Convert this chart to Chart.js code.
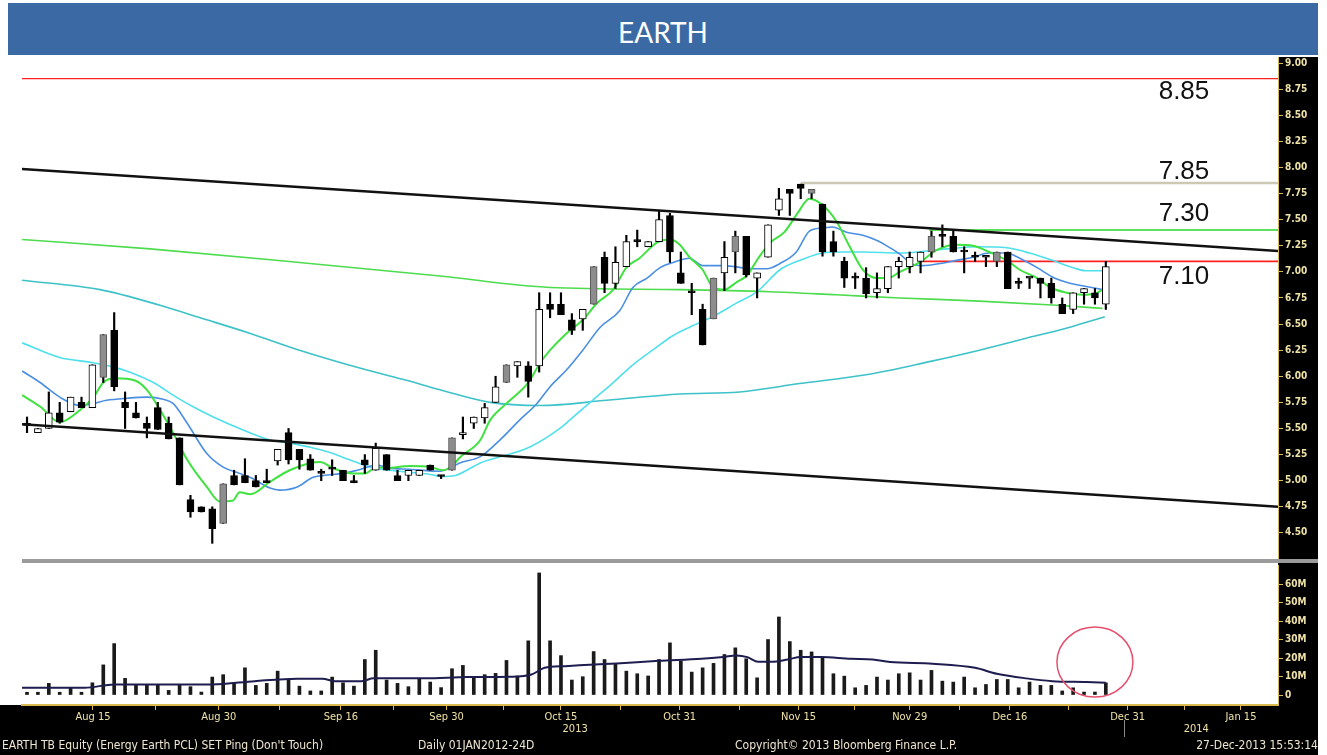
<!DOCTYPE html>
<html>
<head>
<meta charset="utf-8">
<title>EARTH</title>
<script src="https://cdn.jsdelivr.net/npm/chart.js@4.4.1/dist/chart.umd.min.js"></script>
<style>
  html, body { margin: 0; padding: 0; background: #fff; }
  body { width: 1327px; height: 755px; position: relative; overflow: hidden; }
  #title {
    position: absolute; left: 8px; top: 3px; width: 1310px; height: 52px;
    background: #3b69a3; color: #fff; text-align: center;
    font: 28px "Lato", "Open Sans", sans-serif; line-height: 58px;
  }
  #axisBand { position: absolute; left: 1278px; top: 57px; width: 40px; height: 648px; background: #000; }
  #bottomBand { position: absolute; left: 0; top: 705px; width: 1318px; height: 50px; background: #000; }
  #sep { position: absolute; left: 22px; top: 559px; width: 1296px; height: 4px; background: #9b9b9b; }
  canvas { position: absolute; left: 0; }
  #priceChart { top: 57px; }
  #volChart { top: 563px; }
  .foot {
    position: absolute; top: 738px; color: #efe7cf; white-space: pre;
    font: 12px "DejaVu Sans Condensed", "Liberation Sans Narrow", "DejaVu Sans", sans-serif;
  }
</style>
</head>
<body>
<div id="title">EARTH</div>
<div id="axisBand"></div>
<div id="bottomBand"></div>
<div id="sep"></div>
<canvas id="priceChart" width="1318" height="502"></canvas>
<canvas id="volChart" width="1318" height="192"></canvas>
<div class="foot" style="left:2px">EARTH TB Equity (Energy Earth PCL) SET Ping (Don't Touch)</div>
<div class="foot" style="left:418px">Daily 01JAN2012-24D</div>
<div class="foot" style="left:735px">Copyright© 2013 Bloomberg Finance L.P.</div>
<div class="foot" style="right:9px">27-Dec-2013 15:53:14</div>
<script>
// EARTH TB daily candles, early Aug -> 27 Dec 2013
const opens = [
  5.53, 5.46, 5.50, 5.65, 5.66, 5.75, 5.70, 5.99, 6.44, 5.75,
  5.65, 5.55, 5.70, 5.55, 5.41, 4.82, 4.75, 4.73, 4.59, 5.05,
  5.05, 5.00, 5.00, 5.19, 5.46, 5.30, 5.21, 5.07, 5.11, 5.10,
  5.00, 5.20, 5.10, 5.25, 5.05, 5.05, 5.05, 5.15, 5.05, 5.10,
  5.44, 5.55, 5.60, 5.75, 5.94, 6.10, 6.10, 6.10, 6.69, 6.69,
  6.54, 6.55, 6.69, 7.14, 6.89, 7.05, 7.29, 7.24, 7.29, 7.54,
  6.99, 6.80, 6.64, 6.55, 6.99, 7.19, 7.34, 6.94, 7.14, 7.59,
  7.79, 7.84, 7.75, 7.65, 7.29, 7.10, 6.94, 6.94, 6.80, 6.84,
  7.05, 7.05, 7.10, 7.19, 7.34, 7.34, 7.19, 7.14, 7.14, 7.10,
  7.19, 6.89, 6.94, 6.94, 6.89, 6.69, 6.64, 6.80, 6.80, 6.69
];
const highs = [
  5.61, 5.50, 5.85, 5.75, 5.80, 5.80, 6.11, 6.40, 6.61, 5.85,
  5.75, 5.61, 5.75, 5.61, 5.41, 4.86, 4.75, 4.75, 4.97, 5.10,
  5.21, 5.05, 5.11, 5.30, 5.50, 5.30, 5.25, 5.11, 5.20, 5.10,
  5.05, 5.25, 5.36, 5.25, 5.10, 5.10, 5.10, 5.15, 5.05, 5.41,
  5.61, 5.61, 5.74, 6.00, 6.11, 6.14, 6.14, 6.80, 6.80, 6.80,
  6.60, 6.64, 7.05, 7.19, 7.24, 7.35, 7.40, 7.29, 7.59, 7.56,
  7.19, 6.89, 6.69, 6.94, 7.29, 7.39, 7.34, 6.99, 7.45, 7.80,
  7.79, 7.84, 7.79, 7.65, 7.39, 7.14, 6.99, 7.04, 6.99, 7.05,
  7.14, 7.19, 7.19, 7.39, 7.45, 7.39, 7.24, 7.19, 7.14, 7.19,
  7.19, 6.94, 6.94, 6.94, 6.94, 6.75, 6.80, 6.84, 6.84, 7.10
];
const lows = [
  5.46, 5.46, 5.50, 5.55, 5.66, 5.70, 5.70, 5.94, 5.86, 5.50,
  5.60, 5.41, 5.49, 5.40, 4.96, 4.65, 4.70, 4.40, 4.59, 4.96,
  4.98, 4.94, 4.98, 5.15, 5.16, 5.11, 5.10, 5.00, 5.05, 5.00,
  4.98, 5.07, 5.10, 5.10, 5.00, 5.00, 5.05, 5.10, 5.02, 5.10,
  5.40, 5.50, 5.55, 5.75, 5.94, 5.99, 5.80, 6.04, 6.56, 6.59,
  6.40, 6.44, 6.69, 6.80, 6.84, 7.05, 7.24, 7.24, 7.29, 7.09,
  6.89, 6.59, 6.30, 6.55, 6.82, 6.99, 6.95, 6.75, 7.14, 7.54,
  7.54, 7.70, 7.70, 7.15, 7.15, 6.85, 6.84, 6.75, 6.75, 6.80,
  6.94, 6.99, 6.99, 7.14, 7.24, 7.19, 6.99, 7.10, 7.05, 7.05,
  6.84, 6.84, 6.84, 6.75, 6.70, 6.60, 6.60, 6.69, 6.69, 6.64
];
const closes = [
  5.53, 5.50, 5.65, 5.56, 5.80, 5.70, 6.11, 6.40, 5.90, 5.70,
  5.60, 5.50, 5.49, 5.40, 4.96, 4.70, 4.70, 4.54, 4.97, 4.96,
  4.98, 4.94, 4.98, 5.30, 5.20, 5.20, 5.10, 5.07, 5.11, 5.00,
  4.98, 5.15, 5.31, 5.10, 5.00, 5.10, 5.10, 5.10, 5.04, 5.41,
  5.46, 5.61, 5.70, 5.90, 6.11, 6.14, 5.95, 6.64, 6.64, 6.59,
  6.44, 6.64, 7.05, 6.89, 7.09, 7.29, 7.29, 7.29, 7.50, 7.19,
  6.89, 6.80, 6.30, 6.94, 7.14, 7.34, 6.97, 6.99, 7.45, 7.70,
  7.75, 7.80, 7.79, 7.19, 7.19, 6.94, 6.94, 6.79, 6.84, 7.05,
  7.10, 7.14, 7.19, 7.34, 7.34, 7.19, 7.19, 7.14, 7.14, 7.19,
  6.84, 6.89, 6.94, 6.89, 6.75, 6.60, 6.80, 6.84, 6.75, 7.05
];
// u = up (hollow), d = down (black), g = grey body
const kinds = [
  'd','u','u','d','u','d','u','g','d','d',
  'd','d','d','d','d','d','d','d','g','d',
  'd','d','d','u','d','d','d','d','d','d',
  'd','d','u','d','d','u','u','d','d','g',
  'u','u','u','u','g','u','d','u','d','d',
  'd','u','g','d','u','u','d','u','u','d',
  'd','d','d','g','u','g','d','u','u','u',
  'd','d','g','d','d','d','d','d','u','u',
  'u','u','u','g','d','d','d','d','d','g',
  'd','d','d','d','d','d','u','u','d','u'
];
// volume, millions of shares
const volumes = [
  1.5, 1.5, 6.3, 1.5, 4.0, 1.5, 6.6, 16.3, 27.8, 9.0,
  5.6, 5.6, 5.6, 2.5, 5.6, 4.5, 1.6, 9.7, 11.0, 6.6,
  14.7, 5.2, 6.3, 12.9, 8.1, 4.8, 2.2, 2.2, 9.7, 6.6,
  4.8, 19.2, 24.2, 8.1, 6.3, 4.5, 9.0, 7.0, 4.0, 14.2,
  16.0, 9.1, 11.0, 11.7, 18.7, 10.3, 29.3, 66.0, 29.3, 21.3,
  8.1, 9.9, 23.5, 19.2, 16.9, 12.9, 11.5, 10.3, 19.2, 28.2,
  18.3, 12.4, 14.7, 17.1, 21.9, 25.5, 19.6, 9.3, 30.0, 42.2,
  28.9, 24.2, 23.3, 19.9, 11.5, 10.2, 3.9, 5.2, 9.7, 8.1,
  11.5, 12.0, 8.1, 13.3, 7.5, 7.0, 9.7, 3.9, 5.7, 8.4,
  8.4, 3.9, 7.0, 5.2, 5.2, 2.2, 3.9, 1.6, 1.6, 6.6
];

// moving averages as [day index, value]
const maShort = [[-0.45,5.82],[1.2,5.71],[3.0,5.56],[4.9,5.68],[6.1,5.80],[7.0,5.94],[8.1,5.98],[9.9,5.96],[11.0,5.87],[12.2,5.68],[13.4,5.46],[14.7,5.20],[16.5,4.94],[17.7,4.80],[18.9,4.81],[19.5,4.89],[20.5,4.87],[22.3,4.99],[24.1,5.10],[26.0,5.17],[26.9,5.18],[28.1,5.12],[29.9,5.07],[31.0,5.07],[32.1,5.13],[33.0,5.12],[35.1,5.14],[37.0,5.13],[38.2,5.10],[39.1,5.15],[39.7,5.22],[41.6,5.39],[42.5,5.58],[44.0,5.74],[46.0,5.94],[47.1,6.13],[48.0,6.25],[49.5,6.41],[51.0,6.54],[52.3,6.70],[53.8,6.83],[55.0,7.04],[56.2,7.13],[57.8,7.28],[59.0,7.31],[59.9,7.26],[60.8,7.14],[62.0,7.02],[62.9,6.86],[64.0,6.83],[65.1,6.90],[66.1,6.97],[67.1,7.13],[68.2,7.28],[69.5,7.38],[70.7,7.56],[71.8,7.70],[73.0,7.64],[74.3,7.48],[75.5,7.24],[76.7,7.02],[78.0,6.94],[79.0,6.94],[80.1,7.00],[81.9,7.09],[83.5,7.21],[85.3,7.26],[86.8,7.25],[88.3,7.19],[89.9,7.11],[91.1,7.02],[92.7,6.94],[93.9,6.85],[95.4,6.80],[96.9,6.78],[98.2,6.80],[99.0,6.85]];
const maMid = [[-0.45,6.05],[1.2,5.94],[3.0,5.80],[4.9,5.72],[6.1,5.74],[7.3,5.77],[9.2,5.79],[11.0,5.80],[12.5,5.78],[13.4,5.74],[14.7,5.55],[16.5,5.26],[18.0,5.13],[19.5,5.07],[20.5,5.03],[22.3,4.93],[23.2,4.91],[24.8,4.94],[26.2,5.03],[27.2,5.05],[29.0,5.07],[30.3,5.10],[32.1,5.15],[33.3,5.12],[35.1,5.11],[37.9,5.09],[38.8,5.12],[39.7,5.17],[41.6,5.23],[43.5,5.40],[45.2,5.58],[46.8,5.74],[48.0,5.90],[49.5,6.06],[51.0,6.25],[52.6,6.47],[54.4,6.63],[55.6,6.85],[56.9,6.94],[58.1,7.04],[59.3,7.09],[60.8,7.13],[62.0,7.06],[63.9,7.06],[66.6,7.03],[67.9,7.03],[69.1,7.08],[70.6,7.19],[71.8,7.39],[73.0,7.42],[73.9,7.43],[75.2,7.38],[76.7,7.35],[78.0,7.30],[79.2,7.23],[80.1,7.17],[81.3,7.07],[82.2,7.06],[83.8,7.08],[85.3,7.11],[86.8,7.14],[88.3,7.18],[89.9,7.18],[91.1,7.13],[92.7,7.04],[94.1,6.95],[95.7,6.89],[97.2,6.86],[98.7,6.83]];
const maLong = [[-0.45,6.32],[3.0,6.18],[6.1,6.13],[7.9,6.09],[9.7,6.03],[11.6,5.94],[13.4,5.82],[15.2,5.71],[17.1,5.61],[19.5,5.50],[22.3,5.39],[24.1,5.36],[26.0,5.32],[27.8,5.27],[29.6,5.20],[31.5,5.13],[33.3,5.10],[35.1,5.08],[37.0,5.06],[38.1,5.04],[39.3,5.05],[41.6,5.17],[46.1,5.32],[48.9,5.50],[49.8,5.58],[51.9,5.77],[53.8,5.94],[55.6,6.11],[57.4,6.25],[59.3,6.39],[60.8,6.47],[62.9,6.57],[65.1,6.70],[67.0,6.81],[69.1,7.02],[71.2,7.12],[73.0,7.18],[74.9,7.19],[76.7,7.19],[80.1,7.18],[84.4,7.22],[87.4,7.24],[89.9,7.23],[92.0,7.18],[94.1,7.11],[96.0,7.04],[97.2,7.01],[98.7,7.01]];
const ma100 = [[-0.45,6.92],[6.7,6.83],[12.2,6.68],[15.9,6.56],[20.5,6.41],[25.0,6.25],[31.2,6.06],[34.9,5.96],[37.9,5.87],[42.5,5.75],[47.1,5.72],[53.2,5.77],[59.9,5.83],[65.4,5.85],[70.9,5.93],[77.3,6.02],[82.8,6.14],[87.4,6.25],[92.3,6.38],[95.7,6.47],[98.9,6.57]];
const ma200 = [[-0.45,7.31],[11.3,7.22],[25.0,7.09],[37.9,6.96],[48.0,6.85],[59.9,6.83],[68.2,6.81],[74.3,6.78],[80.1,6.75],[87.4,6.72],[94.5,6.68],[98.7,6.65]];
const volAvg = [[-0.46,3.9],[5.3,3.9],[8.0,5.7],[17.0,5.7],[20.9,7.5],[24.8,8.8],[27.1,8.8],[28.3,7.5],[30.7,7.5],[31.8,9.0],[36.5,9.0],[40.4,9.7],[44.3,9.9],[46.3,11.1],[47.5,14.7],[49.4,15.6],[52.1,16.5],[54.1,17.1],[58.0,18.5],[61.9,19.6],[63.9,20.6],[65.1,21.4],[66.1,20.5],[67.1,18.0],[68.3,18.0],[69.8,19.2],[71.0,20.6],[72.9,20.5],[75.6,19.6],[77.6,19.2],[79.2,17.8],[83.1,16.9],[87.0,14.7],[89.0,11.5],[91.7,9.0],[94.1,7.5],[97.2,7.0],[99.0,6.6]];

// hand-drawn analysis lines
const upperTrend = [[-0.46, 7.985], [114.8, 7.20]];
const lowerTrend = [[-0.46, 5.54], [114.8, 4.75]];
const levelValues = [8.85, 7.85, 7.40, 7.10];
const levelStarts = [-0.46, 71.0, 82.8, 81.9];
const levelTexts = ['8.85', '7.85', '7.30', '7.10'];

// axis ticks
const priceTicks = [4.50, 4.75, 5.00, 5.25, 5.50, 5.75, 6.00, 6.25, 6.50, 6.75, 7.00, 7.25, 7.50, 7.75, 8.00, 8.25, 8.50, 8.75, 9.00];
const volTicks = [0, 10, 20, 30, 40, 50, 60];
const dateTicks = [6.05, 17.6, 28.8, 38.5, 49.0, 59.9, 70.8, 81.0, 90.2, 101.0, 111.4];
const dateLabels = ['Aug 15', 'Aug 30', 'Sep 16', 'Sep 30', 'Oct 15', 'Oct 31', 'Nov 15', 'Nov 29', 'Dec 16', 'Dec 31', 'Jan 15'];
const yearTicks = [50.3, 107.3];
const yearLabels = ['2013', '2014'];

const X_MIN = -0.46, X_MAX = 114.8;
const AXIS_FONT = '"DejaVu Sans Condensed", "Liberation Sans Narrow", "DejaVu Sans", sans-serif';
const TICK_COLOR = '#efe2a6';
const AXIS_COLOR = '#d9bb50';

const days = opens.map((_, i) => i);
const pts = arr => arr.map(([x, y]) => ({ x, y }));
const curve = (data, color, width, order) => ({
  type: 'line', data: pts(data), borderColor: color, borderWidth: width,
  pointRadius: 0, cubicInterpolationMode: 'monotone', order
});

// major ticks get a label, a minor tick sits halfway between them
function tickList(values, labels, step) {
  const out = [];
  values.forEach((v, k) => {
    out.push({ value: v, txt: labels[k] });
    if (k < values.length - 1) out.push({ value: step ? v + step : (v + values[k + 1]) / 2, txt: '' });
  });
  return out;
}

const calloutPlugin = {
  id: 'callouts',
  afterDatasetsDraw(chart) {
    const { ctx, scales: { x, y } } = chart;
    const textAt = [8.72, 7.96, 7.555, 6.95];
    ctx.save();
    ctx.font = '26px "Liberation Sans", Arial, sans-serif';
    ctx.fillStyle = '#111';
    ctx.textBaseline = 'middle';
    levelTexts.forEach((t, k) => ctx.fillText(t, x.getPixelForValue(103.85), y.getPixelForValue(textAt[k])));
    ctx.restore();
  }
};

const volumeExtras = {
  id: 'volumeExtras',
  afterDraw(chart) {
    const { ctx, scales: { x, y } } = chart;
    ctx.save();
    ctx.fillStyle = TICK_COLOR;
    ctx.font = '11px ' + AXIS_FONT;
    ctx.textAlign = 'center';
    ctx.textBaseline = 'middle';
    yearLabels.forEach((t, k) => ctx.fillText(t, x.getPixelForValue(yearTicks[k]), 166));
    ctx.strokeStyle = '#8a8a8a';
    ctx.lineWidth = 1;
    const sx = Math.round(x.getPixelForValue(100.7)) + 0.5;
    ctx.beginPath(); ctx.moveTo(sx, 157); ctx.lineTo(sx, 174); ctx.stroke();
    // red circle around the last sessions
    ctx.strokeStyle = '#e5506c';
    ctx.lineWidth = 1.5;
    ctx.beginPath();
    ctx.ellipse(x.getPixelForValue(98.0), y.getPixelForValue(17.8), 38, 35, 0, 0, Math.PI * 2);
    ctx.stroke();
    ctx.restore();
  }
};

const hidden = { legend: { display: false }, tooltip: { enabled: false } };

const priceDatasets = [
  curve(upperTrend, '#111111', 2.5, 0),
  curve(lowerTrend, '#111111', 2.5, 0),
  {
    type: 'bar', order: 1, grouped: false, barThickness: 7, minBarLength: 2,
    data: days.map(i => ({ x: i, y: [opens[i], closes[i]] })),
    backgroundColor: kinds.map(k => k === 'u' ? '#ffffff' : k === 'g' ? '#8d8d8d' : '#000000'),
    borderColor: kinds.map(k => k === 'g' ? '#555555' : '#000000'),
    borderWidth: 1, borderSkipped: false
  },
  {
    type: 'bar', order: 2, grouped: false, barThickness: 1.5,
    data: days.map(i => ({ x: i, y: [lows[i], highs[i]] })),
    backgroundColor: '#000000'
  },
  curve(maShort, '#3fe23f', 2, 3),
  curve(maMid, '#4a8fe2', 1.6, 3),
  curve(maLong, '#4fe0ec', 1.6, 3),
  curve(ma100, '#3cc2c8', 1.6, 4),
  curve(ma200, '#4ddc4d', 1.6, 4)
];
const levelColors = ['#ff2020', '#ccc8b4', '#5ee05e', '#ff2020'];
const levelWidths = [1.2, 2.5, 2, 1.6];
levelValues.forEach((v, k) => {
  priceDatasets.push(curve([[levelStarts[k], v], [X_MAX, v]], levelColors[k], levelWidths[k], 5));
});

new Chart(document.getElementById('priceChart'), {
  type: 'bar',
  data: { datasets: priceDatasets },
  options: {
    responsive: false, animation: false, events: [],
    layout: { padding: { left: 22, right: 0, top: 0, bottom: 0 } },
    plugins: hidden,
    scales: {
      x: { type: 'linear', min: X_MIN, max: X_MAX, offset: false, display: false },
      y: {
        position: 'right', min: 4.25, max: 9.0575,
        afterBuildTicks: s => { s.ticks = tickList(priceTicks, priceTicks.map(v => v.toFixed(2)), 0.125); },
        afterFit: s => { s.width = 40; s.paddingTop = 0; s.paddingBottom = 0; },
        grid: { drawOnChartArea: false, tickLength: 5, color: AXIS_COLOR },
        border: { color: AXIS_COLOR, width: 1 },
        ticks: {
          color: TICK_COLOR, padding: 2,
          font: { family: AXIS_FONT, size: 10, weight: 'bold' },
          callback: (v, i, t) => t[i].txt || ''
        }
      }
    }
  },
  plugins: [calloutPlugin]
});

new Chart(document.getElementById('volChart'), {
  type: 'bar',
  data: {
    datasets: [
      curve(volAvg, '#1d1d4f', 2, 0),
      {
        type: 'bar', order: 1, grouped: false, barThickness: 3,
        data: days.map(i => ({ x: i, y: volumes[i] })),
        backgroundColor: '#1a1a1a'
      }
    ]
  },
  options: {
    responsive: false, animation: false, events: [],
    layout: { padding: { left: 22, right: 0, top: 2, bottom: 0 } },
    plugins: hidden,
    scales: {
      x: {
        type: 'linear', min: X_MIN, max: X_MAX, offset: false,
        afterBuildTicks: s => { s.ticks = tickList(dateTicks, dateLabels); },
        afterFit: s => { s.height = 50; s.paddingLeft = 0; s.paddingRight = 0; },
        grid: { drawOnChartArea: false, tickLength: 5, color: AXIS_COLOR, offset: false },
        border: { color: AXIS_COLOR, width: 2 },
        ticks: {
          color: TICK_COLOR, padding: 1, maxRotation: 0, autoSkip: false,
          font: { family: AXIS_FONT, size: 11 },
          callback: (v, i, t) => t[i].txt || ''
        }
      },
      y: {
        position: 'right', min: -5.4, max: 70.3,
        afterBuildTicks: s => { s.ticks = tickList(volTicks, volTicks.map(v => v ? v + 'M' : '0'), 5); },
        afterFit: s => { s.width = 40; s.paddingTop = 0; s.paddingBottom = 0; },
        grid: { drawOnChartArea: false, tickLength: 5, color: AXIS_COLOR },
        border: { color: AXIS_COLOR, width: 1 },
        ticks: {
          color: TICK_COLOR, padding: 2,
          font: { family: AXIS_FONT, size: 10, weight: 'bold' },
          callback: (v, i, t) => t[i].txt || ''
        }
      }
    }
  },
  plugins: [volumeExtras]
});
</script>
</body>
</html>
